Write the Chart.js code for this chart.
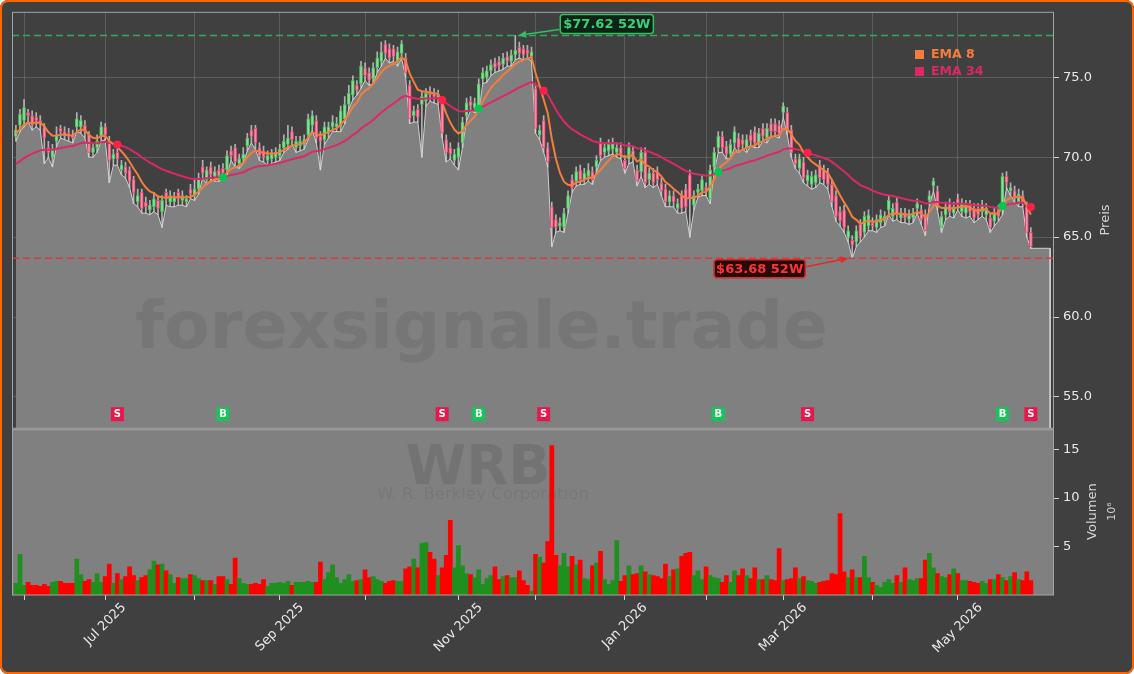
<!DOCTYPE html>
<html><head><meta charset="utf-8">
<script src="https://cdn.jsdelivr.net/npm/chart.js@4.4.1/dist/chart.umd.min.js"></script>
<style>
html,body{margin:0;padding:0;background:#ffffff;}
#wrap{position:relative;width:1134px;height:674px;background:#404040;border-radius:8px;overflow:hidden;}
#frame{position:absolute;left:0;top:0;right:0;bottom:0;border:2.5px solid #ff6600;border-radius:8px;pointer-events:none;}
canvas{position:absolute;left:0;top:0;}
</style></head><body>
<div id="wrap"><canvas id="c" width="1134" height="674"></canvas><div id="frame"></div></div>
<script>
// ---------- data ----------
const startDate = '2025-05-29';
const holidays = ['2025-06-19','2025-07-04','2025-09-01','2025-11-27','2025-12-25','2026-01-01','2026-01-19','2026-02-16','2026-04-03','2026-05-25'];
const barCount = 251;
const opens = [
71.3,72.0,72.3,72.8,72.6,72.5,72.3,71.9,70.6,70.0,
71.0,71.8,71.6,71.5,71.4,71.9,71.9,72.0,71.4,70.3,
70.6,71.3,71.9,71.0,69.9,70.3,69.2,69.4,69.2,68.6,
67.2,67.8,67.2,66.7,66.9,67.3,66.6,67.8,67.2,67.2,
67.8,67.3,67.2,68.0,67.6,68.0,69.4,68.6,69.4,68.8,
69.2,69.3,69.2,70.4,70.6,69.6,69.9,70.7,71.7,71.8,
70.6,70.4,69.8,69.9,70.0,70.1,70.6,70.8,71.6,70.6,
70.7,70.8,71.4,72.0,72.3,71.3,71.1,71.5,71.9,71.9,
71.9,72.4,73.3,73.9,74.5,74.6,75.6,75.3,74.9,75.6,
76.0,77.1,76.8,76.8,76.0,76.5,76.2,74.5,72.6,73.0,
73.3,73.5,74.1,74.0,73.7,73.4,71.1,70.6,69.8,70.0,
70.9,72.6,73.5,73.1,73.1,74.9,75.0,75.4,75.9,76.0,
75.8,76.3,76.0,76.4,76.9,76.8,76.7,76.3,74.3,71.4,
72.3,70.6,66.9,66.1,65.7,65.6,66.8,68.6,68.5,69.2,
68.6,68.8,69.1,69.4,70.9,70.3,70.4,70.5,70.3,70.6,
69.8,69.9,70.4,69.2,69.1,70.3,68.6,69.0,69.1,68.4,
68.0,67.2,67.6,66.8,67.6,68.0,68.9,67.0,67.8,67.9,
68.1,67.4,69.4,70.6,71.3,70.7,70.2,70.9,71.2,71.1,
70.6,71.4,71.6,70.9,71.8,71.2,72.1,72.1,72.0,72.8,
72.8,71.7,69.9,69.3,69.7,68.5,68.3,68.4,69.5,69.2,
69.0,68.3,67.6,66.6,66.7,65.0,64.8,64.7,65.8,65.3,
65.7,65.9,65.6,65.9,66.0,66.7,66.3,67.2,66.2,66.5,
66.1,66.2,66.8,66.7,66.4,67.3,68.2,67.9,65.6,66.4,
67.1,66.5,67.4,66.6,66.5,67.0,66.8,66.8,66.6,66.4,
66.2,66.0,66.7,66.7,68.8,67.9,67.9,67.2,67.6,66.9,
65.3];
const highs = [
72.0,73.0,73.6,73.0,72.9,72.8,72.6,72.1,71.0,70.8,
71.9,72.0,71.9,71.8,71.7,72.8,72.6,72.3,71.6,70.9,
71.4,72.2,72.1,71.3,70.5,70.6,69.8,69.7,69.4,68.8,
68.0,68.0,67.5,67.3,67.8,67.6,67.6,68.0,67.9,67.8,
68.0,67.9,67.6,68.3,68.6,69.0,69.8,69.4,69.7,69.4,
69.5,69.6,70.4,70.7,70.8,70.2,70.6,71.5,72.0,72.0,
70.9,70.7,70.4,70.5,70.6,70.8,71.4,72.0,71.9,71.3,
71.3,71.4,72.7,72.9,72.6,71.6,72.2,72.2,72.6,72.5,
73.2,73.8,74.5,75.1,74.8,76.0,75.9,75.6,75.9,76.6,
77.2,77.3,77.1,77.0,76.9,77.3,76.5,74.8,73.2,73.3,
74.1,74.3,74.4,74.3,74.2,73.7,71.4,70.9,70.5,70.9,
72.5,73.7,73.8,73.7,74.9,75.6,75.7,76.1,76.2,76.3,
76.5,76.6,76.7,77.62,77.2,77.0,77.0,76.9,74.6,72.0,
72.6,70.9,67.2,66.4,66.2,66.8,67.9,68.9,69.4,69.5,
69.3,69.6,69.4,70.1,71.2,70.9,71.1,71.2,70.9,70.9,
70.1,70.9,70.7,69.5,70.6,70.6,69.3,69.3,69.4,68.7,
68.3,67.9,67.9,67.4,67.9,68.3,69.2,67.9,68.3,68.9,
68.4,69.5,70.6,71.6,71.6,71.0,71.1,71.9,71.5,71.4,
71.4,71.7,71.9,71.8,72.1,72.1,72.4,72.4,72.3,73.4,
73.1,72.0,70.2,70.2,70.0,69.2,69.1,69.2,69.8,69.5,
69.3,68.6,67.9,66.9,67.0,65.7,65.1,65.7,66.1,66.6,
66.7,66.2,66.4,66.7,66.6,67.6,67.1,67.5,66.8,66.8,
66.7,66.8,67.4,67.0,66.7,67.9,68.7,68.2,66.6,67.2,
67.4,67.2,67.7,67.4,67.3,67.3,67.1,67.1,67.3,67.1,
66.5,66.8,67.0,69.0,69.1,68.4,68.2,68.0,67.9,67.2,
65.6];
const lows = [
71.0,71.6,71.9,72.2,71.7,71.9,71.7,69.6,70.0,69.4,
70.7,71.2,71.1,71.0,70.9,71.6,71.5,71.2,70.0,70.0,
70.3,71.0,71.1,68.4,69.5,69.5,68.9,68.7,68.1,67.1,
66.9,66.5,66.5,66.4,66.6,66.4,65.6,67.0,66.9,66.9,
67.0,67.0,66.9,67.4,67.3,67.7,68.7,68.3,68.6,68.5,
68.5,68.6,68.9,69.8,69.4,69.3,69.6,70.4,70.9,70.5,
69.8,69.7,69.5,69.6,69.7,69.8,70.3,70.5,70.8,70.3,
70.4,70.5,71.1,71.7,70.9,69.2,70.8,71.2,71.6,71.6,
71.6,72.1,73.0,73.6,73.9,74.3,74.8,74.5,74.6,75.3,
75.7,76.2,75.9,76.0,75.7,76.2,75.0,72.1,72.2,72.2,
70.0,73.2,73.5,73.4,73.3,71.2,69.7,69.9,69.5,69.2,
70.6,72.3,72.9,72.8,72.8,74.6,74.7,75.1,75.3,75.4,
75.5,75.7,75.7,76.1,76.2,76.1,76.2,76.0,71.5,71.1,
70.3,69.4,64.4,65.3,65.4,65.3,66.5,67.8,68.2,68.3,
68.3,68.5,68.3,69.1,69.8,70.0,70.1,70.2,70.0,69.9,
69.0,69.6,69.7,68.2,68.8,68.1,68.3,68.1,68.3,67.6,
66.9,66.9,66.9,66.5,66.5,66.6,65.0,66.7,67.5,67.6,
67.6,67.1,69.1,70.3,70.3,69.9,69.9,70.6,70.3,70.5,
70.3,70.7,70.6,70.6,71.0,70.9,71.3,71.3,71.2,72.5,
71.4,70.0,69.3,69.0,68.4,68.2,68.0,68.1,68.4,68.3,
68.0,66.9,66.0,65.7,65.3,64.7,63.68,64.4,64.7,65.0,
65.4,65.4,65.3,65.6,65.7,66.4,66.0,66.1,65.9,65.9,
65.8,65.9,66.5,65.8,65.1,67.0,67.9,66.7,65.3,66.1,
66.3,66.2,66.7,66.3,66.2,66.3,65.9,66.1,66.3,66.1,
65.3,65.7,66.0,66.4,68.1,67.6,67.2,66.9,66.9,65.0,
64.3];
const closes = [
71.7,72.7,73.1,72.6,72.0,72.3,72.1,71.2,70.3,70.5,
71.4,71.6,71.4,71.3,71.2,72.4,72.3,71.6,70.3,70.6,
71.0,71.9,71.4,69.8,70.2,69.9,69.5,69.0,68.5,67.8,
67.6,66.8,66.9,67.0,67.4,66.8,67.3,67.4,67.6,67.5,
67.4,67.6,67.4,67.7,68.0,68.6,69.0,69.2,68.9,69.1,
68.8,69.0,70.1,70.1,69.7,69.9,70.2,71.2,71.3,70.9,
70.1,70.0,70.1,70.2,70.3,70.5,71.0,71.2,71.1,71.0,
71.0,71.1,72.4,72.6,71.2,71.0,71.9,71.9,72.2,72.1,
72.9,73.3,74.0,74.8,74.2,75.7,75.1,74.8,75.6,76.2,
76.6,76.5,76.2,76.3,76.6,77.1,75.3,72.4,72.9,72.5,
73.8,74.0,73.9,73.8,73.9,71.5,70.3,70.2,70.2,70.6,
72.2,73.4,73.2,73.4,74.6,75.3,75.4,75.8,75.6,75.7,
76.2,76.0,76.4,76.7,76.5,76.4,76.5,76.6,71.8,71.7,
70.6,69.7,65.6,65.6,65.9,66.5,67.6,68.1,69.1,68.6,
69.0,69.2,68.6,69.8,70.1,70.6,70.8,70.9,70.6,70.2,
69.3,70.6,70.0,68.5,70.3,68.4,69.0,68.4,68.6,67.9,
67.2,67.6,67.2,67.1,66.8,66.9,67.4,67.6,68.0,68.6,
67.9,69.2,70.3,71.3,70.6,70.2,70.8,71.6,70.6,70.8,
71.1,71.0,70.9,71.5,71.3,71.8,71.6,71.6,71.5,73.2,
71.7,70.3,69.6,69.9,68.7,68.9,68.8,68.9,68.7,68.6,
68.3,67.2,66.3,66.0,65.6,65.4,64.5,65.4,65.0,66.3,
66.4,65.7,66.1,66.4,66.3,67.3,66.8,66.4,66.5,66.2,
66.4,66.5,67.1,66.1,65.4,67.6,68.5,67.0,66.3,66.9,
66.6,66.9,67.0,67.1,67.0,66.6,66.2,66.4,67.0,66.8,
65.6,66.5,66.3,68.8,68.4,68.1,67.5,67.7,67.2,65.3,
64.4];
const volumes = [ // millions
1.2,4.2,1.0,1.3,1.0,1.0,0.9,1.1,0.9,1.3,
1.4,1.4,1.2,1.2,1.2,3.7,2.1,1.4,1.6,1.3,
2.2,1.3,1.9,3.2,1.2,2.2,1.6,1.9,2.9,2.0,
1.5,1.8,2.0,2.6,3.5,3.1,3.2,2.5,2.1,1.2,
1.8,1.7,1.7,2.1,2.0,1.7,1.5,1.5,1.5,1.1,
1.9,1.9,1.6,1.1,3.8,1.7,1.2,1.1,1.1,1.2,
1.1,1.6,0.9,1.2,1.2,1.3,1.2,1.4,1.0,1.3,
1.3,1.3,1.4,1.3,1.3,3.4,1.6,2.3,3.1,1.8,
1.2,1.6,2.1,1.4,1.5,1.6,2.6,1.8,1.9,1.6,
1.4,1.2,1.4,1.5,1.4,1.4,2.7,2.9,3.7,2.8,
5.3,5.4,4.4,3.7,2.0,2.8,4.1,7.7,2.8,5.1,
3.0,2.2,2.1,1.8,2.6,1.1,1.7,2.0,2.9,1.6,
1.9,2.0,1.8,1.8,2.5,1.5,1.0,0.4,4.2,3.9,
3.3,5.5,15.4,4.1,3.0,4.3,2.9,4.0,3.1,3.6,
1.7,1.6,3.0,3.3,4.5,1.6,1.1,1.5,5.6,1.4,
2.0,3.0,2.1,2.2,3.0,2.4,2.1,2.0,1.9,1.7,
3.2,1.9,2.6,2.7,4.0,4.3,4.4,2.0,2.5,1.6,
2.9,2.0,1.8,1.7,1.3,2.0,1.3,2.5,2.0,2.7,
2.0,1.7,2.8,1.6,1.6,2.0,1.6,1.5,4.8,1.5,
1.6,1.7,2.8,1.7,1.9,1.5,1.4,1.2,1.3,1.4,
1.5,2.2,2.1,8.4,2.4,1.8,2.6,1.8,1.8,4.0,
1.8,1.3,1.0,0.8,1.3,1.6,1.2,2.0,1.3,2.8,
1.6,1.5,1.7,1.7,3.6,4.3,2.8,2.2,1.9,1.8,
2.1,2.7,2.2,1.5,1.5,1.4,1.3,1.2,1.4,1.2,
1.6,1.6,2.1,1.8,1.5,1.9,2.3,1.6,1.5,2.4,
1.5];
const priceTicks = [55, 60, 65, 70, 75];
const volumeTicks = [5, 10, 15];
const signalIdx  = [25, 51, 105, 114, 130, 173, 195, 243, 250];
const signalType = ['S','B','S','B','S','B','S','B','S'];
const ema8Seed = 71.4, ema34Seed = 69.45;
const monthNames = ['Jan','Feb','Mar','Apr','May','Jun','Jul','Aug','Sep','Oct','Nov','Dec'];

// ---------- derived ----------
function tradingDays(start, n, hol) {
  const out = []; const d = new Date(start + 'T12:00:00Z');
  while (out.length < n) {
    const dow = d.getUTCDay(); const iso = d.toISOString().slice(0, 10);
    if (dow !== 0 && dow !== 6 && !hol.includes(iso)) out.push(iso);
    d.setUTCDate(d.getUTCDate() + 1);
  }
  return out;
}
const dates = tradingDays(startDate, barCount, holidays);
const monthTicks = []; const monthLabel = {};
dates.forEach((d, i) => {
  if (i > 0 && d.slice(5, 7) !== dates[i - 1].slice(5, 7)) {
    monthTicks.push(i);
    const m = +d.slice(5, 7) - 1;
    monthLabel[i] = (m % 2 === 0) ? monthNames[m] + ' ' + d.slice(0, 4) : '';
  }
});
function ema(vals, period, seed) { const a = 2 / (period + 1); let e = seed; return vals.map(v => (e = e + a * (v - e))); }
const ema8 = ema(closes, 8, ema8Seed);
const ema34 = ema(closes, 34, ema34Seed);
const last = barCount - 1;
const up = closes.map((c, i) => c >= opens[i]);
const hiVal = Math.max(...highs), hiIdx = highs.indexOf(hiVal);
const loVal = Math.min(...lows), loIdx = lows.indexOf(loVal);

const PMIN = 53.04, PMAX = 79.1, VMAX = 17.2, XMIN = -0.96, XMAX = 255.7;
const FONT = "'DejaVu Sans', 'Liberation Sans', sans-serif";

const fillPts = lows.map((v, i) => ({x: i, y: v}))
  .concat([{x: last + 4.75, y: lows[last]}, {x: last + 4.75, y: PMIN}]);

const upFill = 'rgba(160,220,168,0.85)', upEdge = '#43c95a';
const dnFill = 'rgba(240,150,172,0.92)', dnEdge = '#ec4a73';

function fitFont(ctx, text, weight, width) {
  ctx.font = weight + ' 100px ' + FONT;
  const w = ctx.measureText(text).width;
  return 100 * width / w;
}
function arrow(ctx, x1, y1, x2, y2, color) {
  ctx.save();
  ctx.strokeStyle = color; ctx.fillStyle = color; ctx.lineWidth = 1.6; ctx.setLineDash([]);
  const a = Math.atan2(y2 - y1, x2 - x1), hl = 8, hw = 3.6;
  const bx = x2 - hl * Math.cos(a), by = y2 - hl * Math.sin(a);
  ctx.beginPath(); ctx.moveTo(x1, y1); ctx.lineTo(bx, by); ctx.stroke();
  ctx.beginPath(); ctx.moveTo(x2, y2);
  ctx.lineTo(bx - hw * Math.sin(a), by + hw * Math.cos(a));
  ctx.lineTo(bx + hw * Math.sin(a), by - hw * Math.cos(a));
  ctx.closePath(); ctx.fill();
  ctx.restore();
}
function labelBox(ctx, x, y, w, h, fill, stroke, textColor, text) {
  ctx.save();
  ctx.beginPath();
  if (ctx.roundRect) ctx.roundRect(x, y, w, h, 3); else ctx.rect(x, y, w, h);
  ctx.fillStyle = fill; ctx.fill();
  ctx.lineWidth = 1.5; ctx.strokeStyle = stroke; ctx.stroke();
  ctx.fillStyle = textColor; ctx.font = 'bold 13px ' + FONT;
  ctx.textAlign = 'center'; ctx.textBaseline = 'middle';
  ctx.fillText(text, x + w / 2, y + h / 2 + 0.5);
  ctx.restore();
}

const deco = {
  id: 'deco',
  beforeDatasetsDraw(chart) {
    const {ctx, chartArea: ca, scales} = chart;
    const yv = scales.yv;
    ctx.save();
    ctx.fillStyle = '#808080';
    ctx.fillRect(ca.left, yv.top, ca.right - ca.left, yv.bottom - yv.top);
    // volume panel watermark
    ctx.fillStyle = 'rgba(0,0,0,0.10)';
    ctx.textAlign = 'center'; ctx.textBaseline = 'alphabetic';
    let s = fitFont(ctx, 'WRB', 'bold', 145);
    ctx.font = 'bold ' + s + 'px ' + FONT;
    ctx.fillText('WRB', 478, 484);
    ctx.fillStyle = 'rgba(0,0,0,0.07)';
    s = fitFont(ctx, 'W. R. Berkley Corporation', 'normal', 212);
    ctx.font = s + 'px ' + FONT;
    ctx.fillText('W. R. Berkley Corporation', 483, 499);
    ctx.restore();
  },
  afterDatasetsDraw(chart) {
    const {ctx, chartArea: ca, scales} = chart;
    const x = scales.x, y = scales.y, yv = scales.yv;
    ctx.save();
    // big watermark
    ctx.fillStyle = 'rgba(0,0,0,0.08)';
    ctx.textAlign = 'center'; ctx.textBaseline = 'alphabetic';
    const s = fitFont(ctx, 'forexsignale.trade', 'bold', 693);
    ctx.font = 'bold ' + s + 'px ' + FONT;
    ctx.fillText('forexsignale.trade', 481.5, 348);
    // 52W lines
    const yHi = y.getPixelForValue(hiVal), yLo = y.getPixelForValue(loVal);
    ctx.lineWidth = 1.5; ctx.setLineDash([7, 4]);
    ctx.strokeStyle = '#35a85a';
    ctx.beginPath(); ctx.moveTo(ca.left, yHi); ctx.lineTo(ca.right, yHi); ctx.stroke();
    ctx.strokeStyle = '#d63a3a';
    ctx.beginPath(); ctx.moveTo(ca.left, yLo); ctx.lineTo(ca.right, yLo); ctx.stroke();
    ctx.setLineDash([]);
    // labels + arrows
    ctx.font = 'bold 13px ' + FONT;
    const tHi = '$' + hiVal.toFixed(2) + ' 52W', tLo = '$' + loVal.toFixed(2) + ' 52W';
    const wHi = ctx.measureText(tHi).width + 6, wLo = ctx.measureText(tLo).width + 4;
    const pxHi = x.getPixelForValue(hiIdx), pxLo = x.getPixelForValue(loIdx);
    const bxHi = pxHi + 45, byHi = yHi - 21;
    arrow(ctx, bxHi - 1, byHi + 15, pxHi + 3, yHi, '#2fc065');
    labelBox(ctx, bxHi, byHi, wHi, 19, '#0e2315', '#2fbf65', '#38d07a', tHi);
    const bxLo = pxLo - 47 - wLo, byLo = yLo + 1.5;
    arrow(ctx, bxLo + wLo + 1, byLo + 7, pxLo - 4, yLo, '#e02a2a');
    labelBox(ctx, bxLo, byLo, wLo, 18, '#260909', '#d42a2a', '#ff3434', tLo);
    // legend
    ctx.textAlign = 'left'; ctx.textBaseline = 'middle';
    ctx.font = 'bold 12.5px ' + FONT;
    ctx.fillStyle = '#f57d3c'; ctx.fillRect(915, 50, 9, 9);
    ctx.fillText('EMA 8', 931, 54.5);
    ctx.fillStyle = '#dc2864'; ctx.fillRect(915, 67, 9, 9);
    ctx.fillText('EMA 34', 931, 71.5);
    // signal boxes
    ctx.textAlign = 'center';
    ctx.font = 'bold 10px ' + FONT;
    signalIdx.forEach((idx, k) => {
      const cx = x.getPixelForValue(idx), cy = y.bottom - 14;
      ctx.fillStyle = signalType[k] === 'S' ? '#e8174b' : '#16c45a';
      ctx.fillRect(cx - 6.5, cy - 7, 13, 14);
      ctx.fillStyle = '#ffffff';
      ctx.fillText(signalType[k], cx, cy + 0.5);
    });
    // spines
    ctx.strokeStyle = '#a4a4a4'; ctx.lineWidth = 1;
    ctx.strokeRect(ca.left + 0.5, y.top + 0.5, ca.right - ca.left - 1, y.bottom - y.top - 0.5);
    ctx.strokeRect(ca.left + 0.5, yv.top + 1.5, ca.right - ca.left - 1, yv.bottom - yv.top - 1.5);
    ctx.restore();
  },
  afterDraw(chart) {
    const {ctx, scales} = chart;
    const x = scales.x, y = scales.y, yv = scales.yv;
    ctx.save();
    ctx.fillStyle = '#e8e8e8';
    ctx.font = '13px ' + FONT;
    ctx.textAlign = 'center'; ctx.textBaseline = 'middle';
    monthTicks.forEach(i => {
      const t = monthLabel[i]; if (!t) return;
      const w = ctx.measureText(t).width;
      const side = (w + 13) * Math.SQRT1_2;
      const cx = x.getPixelForValue(i), cy = 601 + side / 2;
      ctx.save(); ctx.translate(cx, cy); ctx.rotate(-Math.PI / 4);
      ctx.fillText(t, 0, 0); ctx.restore();
    });
    ctx.fillStyle = '#d4d4d4';
    const vt = (txt, px, py, f) => { ctx.save(); ctx.translate(px, py); ctx.rotate(-Math.PI / 2); ctx.font = f; ctx.fillText(txt, 0, 0); ctx.restore(); };
    vt('Preis', 1106, (y.top + y.bottom) / 2, '13px ' + FONT);
    vt('Volumen', 1093, (yv.top + yv.bottom) / 2, '13px ' + FONT);
    vt('10\u2076', 1112, (yv.top + yv.bottom) / 2, '11px ' + FONT);
    ctx.restore();
  }
};

const tickFont = {family: FONT, size: 13};
new Chart(document.getElementById('c'), {
  type: 'bar',
  data: {
    datasets: [
      { type: 'line', label: 'Low', data: fillPts, yAxisID: 'y', borderColor: '#cfcfcf', borderWidth: 1,
        backgroundColor: '#808080', fill: 'start', pointRadius: 0, tension: 0, order: 20 },
      { type: 'bar', label: 'Volumen', data: volumes.map((v, i) => ({x: i, y: v})), yAxisID: 'yv',
        backgroundColor: up.map(u => u ? '#1f8f1f' : '#ff0000'), borderWidth: 0,
        barPercentage: 1, categoryPercentage: 1, grouped: false, order: 18 },
      { type: 'bar', label: 'wick', data: highs.map((h, i) => ({x: i, y: [lows[i], h]})), yAxisID: 'y',
        backgroundColor: 'rgba(215,215,215,0.75)', barThickness: 1, grouped: false, order: 16 },
      { type: 'bar', label: 'body', data: closes.map((c, i) => ({x: i, y: [opens[i], c]})), yAxisID: 'y',
        backgroundColor: up.map(u => u ? upFill : dnFill), borderColor: up.map(u => u ? upEdge : dnEdge),
        borderWidth: 1, borderSkipped: false, barThickness: 3, grouped: false, order: 15 },
      { type: 'line', label: 'EMA 34', data: ema34.map((v, i) => ({x: i, y: v})), yAxisID: 'y',
        borderColor: '#dc2864', borderWidth: 2, pointRadius: 0, tension: 0, fill: false, order: 6 },
      { type: 'line', label: 'EMA 8', data: ema8.map((v, i) => ({x: i, y: v})), yAxisID: 'y',
        borderColor: '#f57d3c', borderWidth: 2, pointRadius: 0, tension: 0, fill: false, order: 5 },
      { type: 'line', label: 'cross', data: signalIdx.map(i => ({x: i, y: ema34[i]})), yAxisID: 'y',
        showLine: false, pointRadius: 4, pointBorderWidth: 0,
        pointBackgroundColor: signalType.map(t => t === 'S' ? '#ff1f4b' : '#00c853'), order: 1 }
    ]
  },
  options: {
    responsive: false, animation: false, devicePixelRatio: 1,
    layout: {padding: {left: 12, top: 11, right: 0, bottom: 0}},
    plugins: {legend: {display: false}, tooltip: {enabled: false}},
    scales: {
      x: { type: 'linear', min: XMIN, max: XMAX, offset: false,
        afterBuildTicks: s => { s.ticks = monthTicks.map(v => ({value: v})); },
        ticks: {display: false},
        grid: {offset: false, color: 'rgba(255,255,255,0.15)', tickColor: '#d0d0d0', tickLength: 5, lineWidth: 1},
        border: {display: false},
        afterFit: s => { s.height = 79; } },
      y: { type: 'linear', position: 'right', stack: 'panels', stackWeight: 417, min: PMIN, max: PMAX,
        afterBuildTicks: s => { s.ticks = priceTicks.map(v => ({value: v})); },
        ticks: {color: '#e8e8e8', font: tickFont, padding: 4, callback: v => Number(v).toFixed(1)},
        grid: {color: 'rgba(255,255,255,0.15)', tickColor: '#d0d0d0', tickLength: 5},
        border: {display: false},
        afterFit: s => { s.width = 80; } },
      yv: { type: 'linear', position: 'right', stack: 'panels', stackWeight: 167, min: 0, max: VMAX,
        afterBuildTicks: s => { s.ticks = volumeTicks.map(v => ({value: v})); },
        ticks: {color: '#e8e8e8', font: tickFont, padding: 4, callback: v => String(v)},
        grid: {drawOnChartArea: false, tickColor: '#d0d0d0', tickLength: 5},
        border: {display: false},
        afterFit: s => { s.width = 80; } }
    }
  },
  plugins: [deco]
});
</script>
</body></html>
